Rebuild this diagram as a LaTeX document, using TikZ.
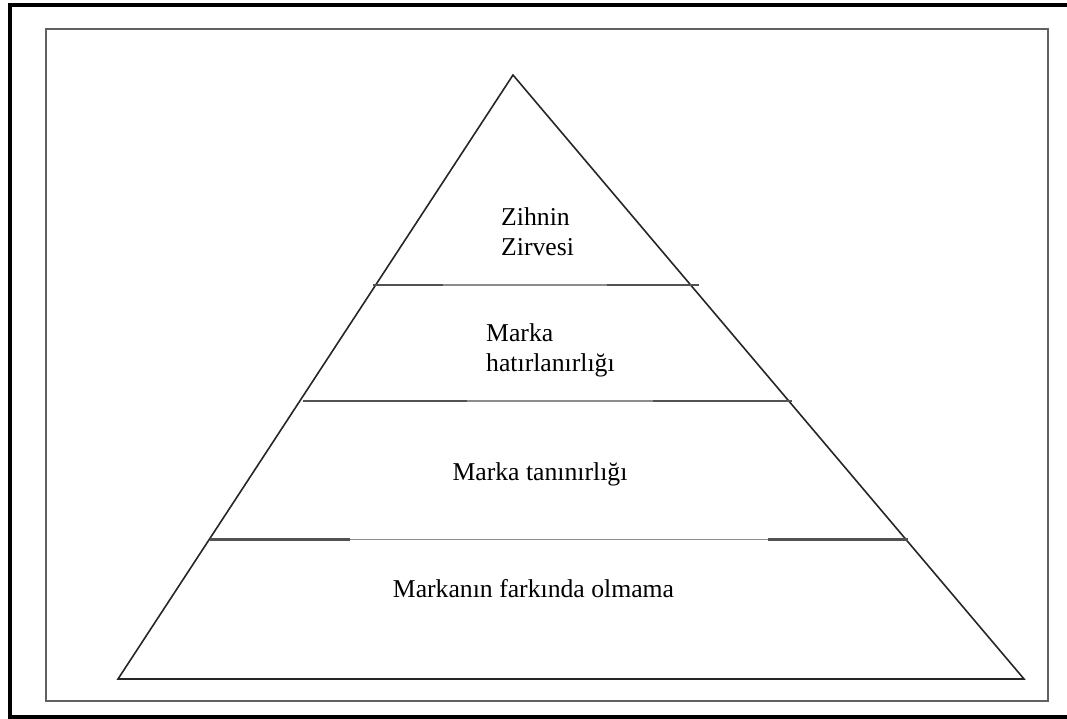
\documentclass[tikz,border=0pt]{standalone}
\usepackage{tikz}
\usepackage{fontspec}
\setmainfont{Liberation Serif}
\usetikzlibrary{calc}
\usepackage{tkz-euclide}
\usepackage{xcolor}
\tikzset{
    band text/.style={inner sep=0pt, font=\fontsize{25.7}{30}\selectfont, align=left},
    rule thick/.style={color=black!68, line width=2.4pt},
    rule thin/.style={color=black!45, line width=1.2pt}
}

\begin{document}
\begin{tikzpicture}[x=1pt,y=-1pt]
    \useasboundingbox (0,0) rectangle (1067,719);
    \tkzDefPoint(1067,5){FA}
    \tkzDefPoint(10,5){FB}
    \tkzDefPoint(10,717){FC}
    \tkzDefPoint(1067,717){FD}
    \draw[black, line width=4pt] (FA) -- (FB) -- (FC) -- (FD);
    \tkzDefPoint(46,29){GA}
    \tkzDefPoint(1048,701){GB}
    \draw[color=black!62, line width=2pt] (GA) rectangle (GB);
    \tkzDefPoint(513,75){A}
    \tkzDefPoint(118,679){B}
    \tkzDefPoint(1024,679){C}
    \draw[color=black!85, line width=1.6pt, line join=miter] (A) -- (B) -- (C) -- cycle;
    \tkzDefPoint(373,285){P1}
    \tkzDefPoint(443,285){Q1}
    \tkzDefPoint(607,285){R1}
    \tkzDefPoint(699,285){S1}
    \tkzDefPoint(303,401){P2}
    \tkzDefPoint(467,401){Q2}
    \tkzDefPoint(653,401){R2}
    \tkzDefPoint(792,401){S2}
    \tkzDefPoint(210,539.5){P3}
    \tkzDefPoint(350,539.5){Q3}
    \tkzDefPoint(768,539.5){R3}
    \tkzDefPoint(908,539.5){S3}
    \foreach \i in {1,2,3}{
        \draw[rule thin] (Q\i) -- (R\i);
        \draw[rule thick] (P\i) -- (Q\i);
        \draw[rule thick] (R\i) -- (S\i);
    }
    \node[band text, anchor=west] (zirve) at (501,232) {Zihnin\\Zirvesi};
    \node[band text, anchor=west] (hatir) at (486,350) {Marka\\hatırlanırlığı};
    \node[band text, anchor=base] (tanin) at (540,480) {Marka tanınırlığı};
    \node[band text, anchor=base] (fark) at (533.5,597) {Markanın farkında olmama};
\end{tikzpicture}
\end{document}
